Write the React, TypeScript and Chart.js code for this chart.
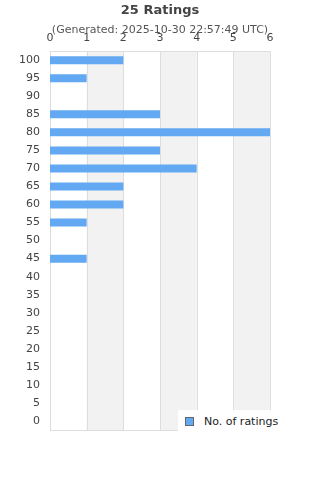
import React, { useEffect, useRef } from "react";
import { Chart, registerables } from "chart.js";

Chart.register(...registerables);

const titleText = "25 Ratings";
const subtitleText = "(Generated: 2025-10-30 22:57:49 UTC)";
const categories = ["100", "95", "90", "85", "80", "75", "70", "65", "60", "55", "50", "45", "40", "35", "30", "25", "20", "15", "10", "5", "0"];
const ratingCounts = [2, 1, 0, 3, 6, 3, 4, 2, 2, 1, 0, 1, 0, 0, 0, 0, 0, 0, 0, 0, 0];
const seriesLabel = "No. of ratings";
const bands = [[1, 2], [3, 4], [5, 6]];

const FONT = "'DejaVu Sans', sans-serif";

const decorPlugin = {
  id: "decor",
  beforeDatasetsDraw(chart: any) {
    const { ctx, chartArea, scales } = chart;
    const x = scales.x;
    ctx.save();
    ctx.fillStyle = "#f2f2f2";
    for (const [a, b] of bands) {
      const x0 = x.getPixelForValue(a);
      const x1 = x.getPixelForValue(b);
      ctx.fillRect(x0, chartArea.top, x1 - x0, chartArea.bottom - chartArea.top);
    }
    ctx.strokeStyle = "#dddddd";
    ctx.lineWidth = 1;
    for (let v = 0; v <= 6; v++) {
      const px = Math.round(x.getPixelForValue(v)) + 0.5;
      ctx.beginPath();
      ctx.moveTo(px, chartArea.top);
      ctx.lineTo(px, chartArea.bottom);
      ctx.stroke();
    }
    ctx.strokeRect(
      Math.round(chartArea.left) + 0.5,
      Math.round(chartArea.top) + 0.5,
      Math.round(chartArea.right - chartArea.left),
      Math.round(chartArea.bottom - chartArea.top)
    );
    ctx.restore();
  },
  afterDraw(chart: any) {
    const { ctx, width } = chart;
    ctx.save();
    ctx.textAlign = "center";
    ctx.textBaseline = "middle";
    ctx.fillStyle = "#444444";
    ctx.font = `bold 13px ${FONT}`;
    ctx.fillText(titleText, width / 2, 11);
    ctx.font = `11px ${FONT}`;
    ctx.fillStyle = "#555555";
    ctx.fillText(subtitleText, width / 2, 30);
    ctx.restore();
  },
};

export default function App() {
  const ref = useRef<HTMLCanvasElement | null>(null);
  useEffect(() => {
    if (!ref.current) return;
    const chart = new Chart(ref.current, {
      type: "bar",
      data: {
        labels: categories,
        datasets: [
          {
            label: seriesLabel,
            data: ratingCounts,
            backgroundColor: "#62a8f2",
            borderWidth: 0,
            inflateAmount: 0,
            barThickness: 8,
          },
        ],
      },
      options: {
        indexAxis: "y",
        animation: false,
        responsive: false,
        layout: { padding: { top: 26, left: 8, right: 50, bottom: 50 } },
        plugins: {
          legend: { display: false },
          title: { display: false },
          tooltip: { enabled: false },
        },
        scales: {
          x: {
            position: "top",
            min: 0,
            max: 6,
            ticks: { stepSize: 1, padding: 6, color: "#444444", font: { family: FONT, size: 11 } },
            grid: { display: false, drawTicks: false },
            border: { display: false },
          },
          y: {
            ticks: { padding: 10, color: "#444444", font: { family: FONT, size: 11 } },
            grid: { display: false, drawTicks: false },
            border: { display: false },
            afterFit(scale: any) {
              scale.width = 42;
            },
          },
        },
      },
      plugins: [decorPlugin],
    });
    return () => chart.destroy();
  }, []);

  return (
    <div style={{ position: "fixed", left: 0, top: 0, width: 320, height: 480, background: "#fff" }}>
      <canvas ref={ref} width={320} height={480} style={{ display: "block" }} />
      <div
        style={{
          position: "absolute",
          left: 178,
          top: 410,
          width: 107,
          height: 22,
          background: "#ffffff",
          display: "flex",
          alignItems: "center",
          fontFamily: FONT,
          fontSize: 11,
          color: "#222222",
        }}
      >
        <span
          style={{
            display: "inline-block",
            width: 7,
            height: 7,
            background: "#62a8f2",
            border: "1px solid #666666",
            marginLeft: 7,
            marginRight: 10,
          }}
        />
        <span>{seriesLabel}</span>
      </div>
    </div>
  );
}
